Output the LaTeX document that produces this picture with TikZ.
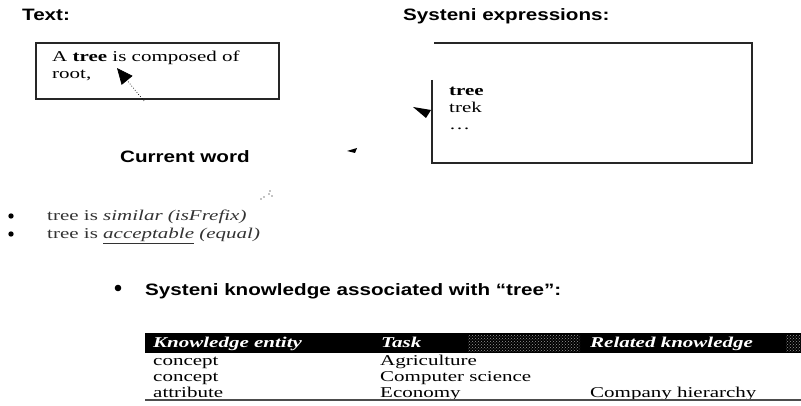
\documentclass[tikz,border=0pt]{standalone}
\usepackage{fontspec}
\setmainfont{Liberation Serif}[FakeStretch=1.4]
\newfontfamily\headfont{Liberation Sans}[FakeStretch=1.25]
\usetikzlibrary{arrows.meta,patterns}

\tikzset{
  heading/.style={font=\headfont\bfseries\fontsize{16.5}{19}\selectfont, anchor=base west, inner sep=0pt},
  body/.style={font=\fontsize{15}{17}\selectfont, anchor=base west, inner sep=0pt},
  headcell/.style={font=\bfseries\itshape\fontsize{15}{17}\selectfont, text=white, anchor=base west, inner sep=0pt},
  frame/.style={draw=black!85, line width=1.2pt},
}

\begin{document}
\begin{tikzpicture}[x=1pt,y=-1pt]
  \useasboundingbox (0,0) rectangle (801,406);

  % Headings of the two panels
  \node[heading] (texthead) at (22,21) {Text:};
  \node[heading] (exprhead) at (403,21) {Systeni expressions:};

  % The text box and the pointer to the current word
  \draw[frame] (36,43) rectangle (279,99);
  \node[body] (textline1) at (52,62) {A \textbf{tree} is composed of};
  \node[body] (textline2) at (52,79) {root,};
  \coordinate (ptr) at (144,101);
  \coordinate (cursor) at (117,68);
  \draw[dotted, line width=0.7pt, -{Triangle[length=16pt,width=14pt,fill=black]}] (ptr) -- (cursor);

  \node[heading] (curword) at (120,163) {Current word};
  \fill (347,151) -- (357,148) -- (355,153) -- cycle;
  \foreach \p in {(261,199),(264,197),(269,194),(272,196),(270,191)}
    \fill \p circle (0.7pt);

  % The box of expressions, open at the upper left
  \draw[frame] (432,80) -- (432,163) -- (752,163) -- (752,43) -- (434,43);
  \node[body] (expr1) at (449,96) {\textbf{tree}};
  \node[body] (expr2) at (449,113) {trek};
  \node[body] (expr3) at (449,130) {\dots};
  \fill (413,107) -- (431,110) -- (426,118) -- cycle;

  % Matches of the current word
  \fill (11,216) circle (2.7pt);
  \fill (11,234) circle (2.7pt);
  \node[body, text=black!80] (item1) at (47,221) {tree is \textit{similar} \textit{(isFrefix)}};
  \node[body, text=black!80] (item2) at (47,239) {tree is \textit{\underline{acceptable}} \textit{(equal)}};

  % Knowledge attached to the word
  \fill (118,288) circle (3.3pt);
  \node[heading] (knowhead) at (145,296) {Systeni knowledge associated with “tree”:};

  % The table
  \fill (145,333) rectangle (801,353);
  \fill[pattern=crosshatch dots, pattern color=gray!80] (468,335) rectangle (580,351);
  \fill[pattern=crosshatch dots, pattern color=gray!80] (786,335) rectangle (801,351);
  \node[headcell] (colentity) at (153,347) {Knowledge entity};
  \node[headcell] (coltask) at (381,347) {Task};
  \node[headcell] (colrelated) at (590,347) {Related knowledge};

  \node[body] (entity1) at (153,365) {concept};
  \node[body] (task1) at (380,365) {Agriculture};
  \node[body] (entity2) at (153,381) {concept};
  \node[body] (task2) at (380,381) {Computer science};
  \node[body] (entity3) at (153,397) {attribute};
  \node[body] (task3) at (380,397) {Economy};
  \node[body] (related3) at (590,397) {Company hierarchy};
  \draw[black!70, line width=2pt] (145,400) -- (801,400);
\end{tikzpicture}
\end{document}
